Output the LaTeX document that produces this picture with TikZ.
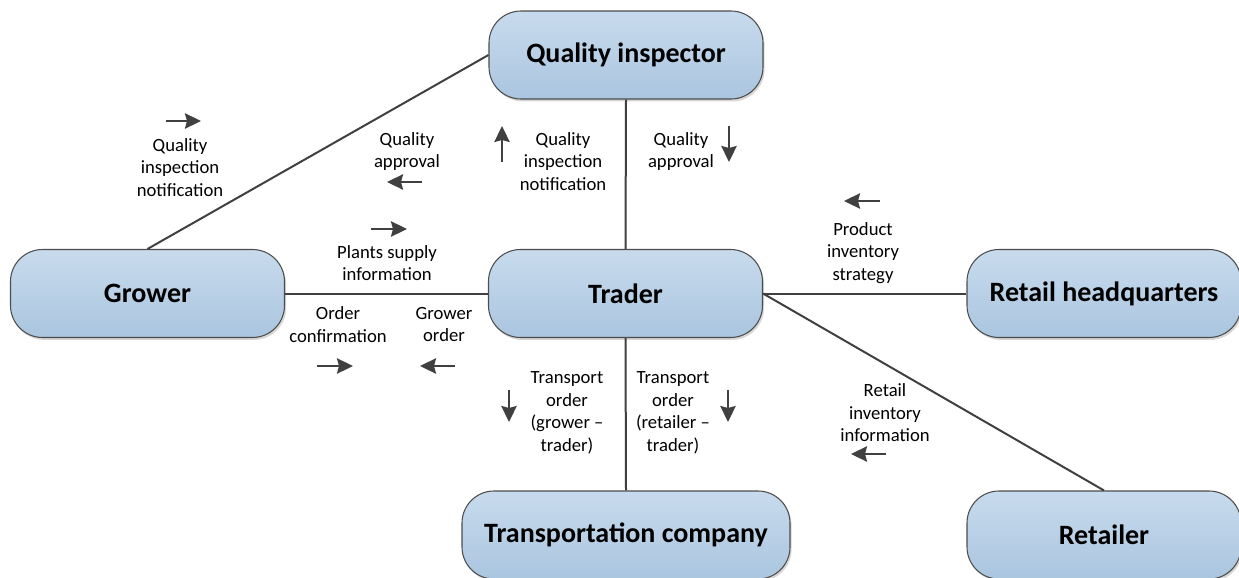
\documentclass[tikz,border=0pt]{standalone}
\usepackage{fontspec}
\setmainfont{Carlito}
\usetikzlibrary{arrows.meta,shadows}
\definecolor{boxtop}{HTML}{C8DBED}
\definecolor{boxbot}{HTML}{AAC5DF}
\definecolor{edgec}{HTML}{404040}
\begin{document}
\begin{tikzpicture}[x=0.75pt,y=-0.75pt,
  entity/.style={rounded corners=24pt, draw=black!70, line width=0.8pt,
    top color=boxtop, bottom color=boxbot, minimum width=205.5pt, minimum height=66pt,
    inner sep=0pt, font=\fontsize{21}{25}\selectfont\bfseries,
    drop shadow={shadow xshift=1.2pt, shadow yshift=-1.8pt, opacity=0.35, fill=black!45}},
  conn/.style={draw=edgec, line width=1.5pt},
  lbl/.style={align=center, inner sep=0pt, font=\fontsize{14}{16.9}\selectfont},
  flow/.style={draw=edgec, line width=1.7pt, -{Stealth[length=12pt,width=11.5pt,inset=1.5pt]}}]
\useasboundingbox (0,0) rectangle (1239,578);
\clip (0,0) rectangle (1239,578);

\node[entity] (qi) at (626,55) {Quality inspector};
\node[entity] (grower) at (147.5,293.5) {Grower};
\node[entity] (trader) at (625.5,293.5) {Trader};
\node[entity] (rhq) at (1104,293.5) {Retail headquarters};
\node[entity, minimum width=246pt] (trans) at (626,535) {Transportation company};
\node[entity] (retailer) at (1104,535) {Retailer};

\draw[conn] (qi.west) -- (grower.north);
\draw[conn] (qi.south) -- (trader.north);
\draw[conn] (grower.east) -- (trader.west);
\draw[conn] (trader.east) -- (rhq.west);
\draw[conn] (trader.south) -- (trans.north);
\draw[conn] (trader.east) -- (retailer.north);

\node[lbl] (l1) at (180,167.5) {Quality\\inspection\\notification};
\node[lbl] (l2) at (407,151.5) {Quality\\approval};
\node[lbl] (l3) at (387,263) {Plants supply\\information};
\node[lbl] (l4) at (338,324.5) {Order\\confirmation};
\node[lbl] (l5) at (444,324.5) {Grower\\order};
\node[lbl] (l6) at (563,161.5) {Quality\\inspection\\notification};
\node[lbl] (l7) at (681,151.5) {Quality\\approval};
\node[lbl] (l8) at (863,253) {Product\\inventory\\strategy};
\node[lbl] (l9) at (567,413) {Transport\\order\\(grower –\\trader)};
\node[lbl] (l10) at (673,413) {Transport\\order\\(retailer –\\trader)};
\node[lbl] (l11) at (885,413) {Retail\\inventory\\information};

\draw[flow] (166,121) -- (201,121);
\draw[flow] (422,182) -- (387,182);
\draw[flow] (371,229) -- (407,229);
\draw[flow] (317,366) -- (353,366);
\draw[flow] (455,366) -- (420,366);
\draw[flow] (502,162) -- (502,126);
\draw[flow] (729,126) -- (729,162);
\draw[flow] (880,201) -- (844,201);
\draw[flow] (509,390) -- (509,422);
\draw[flow] (728,390) -- (728,422);
\draw[flow] (886,454) -- (851,454);
\end{tikzpicture}
\end{document}
